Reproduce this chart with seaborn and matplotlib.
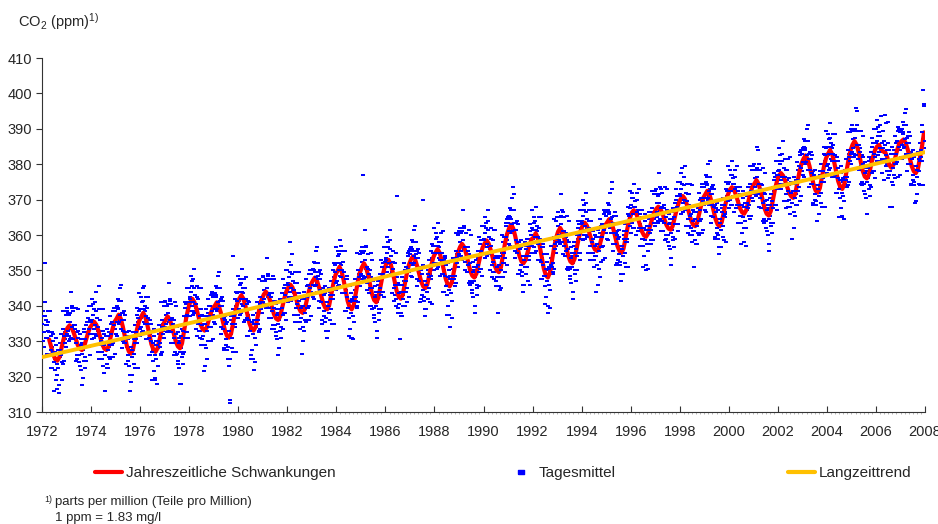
# CO2-Konzentration Tagesmittel 1972-2008 mit Jahresgang und Langzeittrend
import numpy as np
import pandas as pd
import seaborn as sns
import matplotlib
matplotlib.use("Agg")
import matplotlib.pyplot as plt
from matplotlib.markers import MarkerStyle
from matplotlib.lines import Line2D
from matplotlib.ticker import MultipleLocator

# Tagesmittel, 36 Werte pro Jahr (gleichmaessig ueber das Jahr verteilt)
tages_1972_1979 = [
    335, 330, 337, 332.5, 352, 334.5, 336, 331, 333, 335.5, 326.5, 332.5, 327.5, 331.5, 322.5, 327, 330, 324,
    322, 327, 331, 323.5, 320.5, 327.5, 326.5, 317.5, 327.5, 332, 326, 319, 323.5, 333.5, 331.5, 329.5, 337.5, 331.5,
    332, 338, 333, 337.5, 330.5, 335.5, 331, 340, 334, 330.5, 334.5, 327.5, 333.5, 329.5, 339.5, 326, 331, 333,
    326, 323, 329, 330.5, 326.5, 319.5, 330.5, 333.5, 325.5, 330.5, 334.5, 328.5, 335.5, 328.5, 333.5, 340, 332, 336,
    335.5, 330.5, 337.5, 340.5, 333.5, 334.5, 338.5, 331.5, 336.5, 327, 334, 345.5, 329, 336, 330, 325, 331, 339,
    321, 329, 326, 331.5, 329.5, 322.5, 331.5, 327.5, 325.5, 337, 329, 332, 335.5, 329.5, 338.5, 334.5, 326.5, 338.5,
    339.5, 335.5, 331.5, 339.5, 341.5, 335.5, 337.5, 333.5, 341.5, 336, 330, 333, 338.5, 329.5, 332.5, 323.5, 331.5, 330.5,
    326, 331, 316, 320.5, 328.5, 327.5, 325.5, 332.5, 330.5, 326.5, 329.5, 332.5, 330.5, 337.5, 322.5, 336.5, 338.5, 333.5,
    339, 334, 341, 345, 333, 339, 340, 335, 337, 339.5, 330.5, 336.5, 331, 335, 326, 330, 333, 327,
    324.5, 329.5, 333.5, 326, 319.5, 330, 329, 323, 330, 334.5, 328.5, 329.5, 326, 336, 334, 332, 340, 334,
    334, 340, 335, 340, 333, 338, 333, 342, 336, 332.5, 336.5, 329.5, 335, 331, 341, 327, 332, 334,
    326.5, 323.5, 329.5, 331, 327, 318, 331.5, 334.5, 326.5, 333, 337, 331, 339.5, 332.5, 337.5, 345, 337, 341,
    342, 337, 344, 347, 340, 341, 345, 338, 343, 333.5, 340.5, 342.5, 335, 342, 336, 331, 337, 345,
    330.5, 334.5, 331.5, 337, 335, 323, 337, 333, 325, 342, 334, 337, 340, 334, 343, 338.5, 330.5, 342.5,
    343, 339, 335, 343, 345, 339, 341, 337, 345, 340, 334, 337, 342.5, 333.5, 336.5, 328, 336, 335,
    330.5, 335.5, 328.5, 325, 333, 312.5, 313.5, 337, 335, 331, 354, 337, 335, 342, 327, 341.5, 343.5, 338.5,
]
tages_1980_1989 = [
    344, 339, 346, 342, 338, 344, 345, 340, 342, 345, 336, 342, 336.5, 340.5, 331.5, 336, 339, 333,
    326, 335.5, 339.5, 332, 322, 336, 335, 329, 336, 341, 335, 336, 332.5, 342.5, 340.5, 339, 347, 341,
    341, 347, 342, 347, 340, 345, 340, 349, 343, 339.5, 343.5, 336.5, 342.5, 338.5, 348.5, 334.5, 339.5, 341.5,
    334.5, 331.5, 337.5, 339, 335, 328, 339, 342, 334, 339.5, 343.5, 337.5, 345, 338, 343, 350, 342, 346,
    346, 341, 348, 358, 344, 345, 349, 342, 347, 337.5, 344.5, 346.5, 339.5, 346.5, 340.5, 335.5, 341.5, 349.5,
    335.5, 339.5, 336.5, 342, 340, 330, 342, 338, 336, 347.5, 339.5, 342.5, 346, 340, 349, 345, 337, 349,
    350, 346, 342, 350, 352, 346, 348, 344, 352, 347.5, 341.5, 344.5, 350, 341, 344, 336, 344, 343,
    338.5, 343.5, 336.5, 333, 341, 340, 338, 345, 343, 339, 342, 345, 343, 350, 335, 349.5, 351.5, 346.5,
    352, 347, 354, 350, 346, 352, 357, 348, 350, 352.5, 343.5, 349.5, 343.5, 347.5, 338.5, 342.5, 345.5, 339.5,
    336.5, 341.5, 345.5, 338, 331, 342, 341.5, 335.5, 342.5, 347.5, 341.5, 342.5, 340, 350, 348, 346.5, 354.5, 348.5,
    349, 355, 377, 355, 348, 353, 348, 357, 351, 346.5, 350.5, 343.5, 349, 345, 355, 340, 345, 347,
    339.5, 336.5, 342.5, 344, 340, 333, 344, 347, 339, 345, 349, 343, 351, 344, 349, 356.5, 348.5, 352.5,
    353, 348, 355, 358, 351, 352, 356, 349, 354, 343.5, 350.5, 352.5, 345, 352, 346, 340, 346, 371,
    339.5, 343.5, 340.5, 346, 344, 337, 346, 342, 340, 352, 344, 347, 351, 345, 354, 350.5, 342.5, 354.5,
    356, 352, 348, 356, 358, 352, 354, 350, 358, 353.5, 347.5, 350.5, 356, 347, 350, 342, 350, 349,
    344.5, 370, 342.5, 339, 347, 346, 344, 351, 349, 345, 348, 351, 348.5, 355.5, 340.5, 355, 357, 352,
    357, 352, 359, 355, 351, 357, 358, 353, 355, 358, 349, 355, 349, 353, 344, 348.5, 351.5, 345.5,
    343, 348, 352, 344.5, 334, 348.5, 347.5, 341.5, 348.5, 353.5, 347.5, 348.5, 345.5, 355.5, 353.5, 352, 360, 354,
    354.5, 360.5, 355.5, 360.5, 353.5, 358.5, 353.5, 362.5, 356.5, 352.5, 356.5, 349.5, 355.5, 351.5, 361.5, 347, 352, 354,
    346.5, 343.5, 349.5, 351, 347, 340, 351, 354, 346, 351.5, 355.5, 349.5, 357.5, 350.5, 355.5, 362.5, 354.5, 358.5,
]
tages_1990_1999 = [
    358.5, 353.5, 360.5, 363.5, 356.5, 357.5, 361.5, 354.5, 359.5, 350, 357, 359, 351.5, 358.5, 352.5, 347.5, 353.5, 361.5,
    347, 351, 348, 353.5, 351.5, 344.5, 354, 350, 348, 360, 352, 355, 359.5, 353.5, 362.5, 359.5, 351.5, 363.5,
    365, 361, 357, 365, 367, 361, 363, 373.5, 367, 361.5, 355.5, 358.5, 364, 355, 358, 349, 357, 356,
    351.5, 356.5, 349.5, 346, 354, 353, 351, 358, 356, 351, 354, 357, 354, 361, 346, 360, 362, 357,
    361.5, 356.5, 363.5, 359.5, 355.5, 361.5, 362.5, 357.5, 359.5, 362, 353, 359, 352.5, 356.5, 347.5, 351.5, 354.5, 348.5,
    345.5, 350.5, 354.5, 347, 338, 351, 350.5, 344.5, 351.5, 357, 351, 352, 349.5, 359.5, 357.5, 356, 364, 358,
    359, 365, 360, 365, 358, 363, 358, 367, 361, 357, 361, 354, 359.5, 355.5, 365.5, 351, 356, 358,
    350.5, 347.5, 353.5, 355, 351, 344, 355, 358, 350, 356, 360, 354, 362, 355, 360, 367, 359, 363,
    363.5, 358.5, 365.5, 368.5, 361.5, 362.5, 366.5, 359.5, 364.5, 355, 362, 364, 357, 364, 358, 353, 359, 367,
    353, 357, 354, 359.5, 357.5, 346, 359.5, 355.5, 348, 364.5, 356.5, 359.5, 363, 357, 366, 361.5, 353.5, 365.5,
    366.5, 362.5, 358.5, 366.5, 368.5, 362.5, 364.5, 360.5, 375, 363.5, 357.5, 360.5, 366.5, 357.5, 360.5, 352, 360, 359,
    354.5, 359.5, 352.5, 349, 357, 356, 354, 361, 359, 355, 358, 361, 359, 366, 351, 365.5, 367.5, 362.5,
    368.5, 363.5, 370.5, 366, 362, 368, 369.5, 364.5, 366.5, 370, 361, 367, 362, 366, 357, 362, 365, 359,
    357, 362, 366, 358.5, 350, 362.5, 361.5, 355.5, 362.5, 366.5, 360.5, 361.5, 357.5, 367.5, 365.5, 363.5, 371.5, 365.5,
    365.5, 371.5, 366.5, 371, 364, 369, 364.5, 373.5, 367.5, 364, 368, 361, 367.5, 363.5, 373.5, 360, 365, 367,
    360, 357, 363, 364.5, 360.5, 353.5, 364.5, 367.5, 359.5, 365, 369, 363, 370, 363, 368, 375, 367, 371,
    371, 366, 373, 379, 369, 370, 374, 367, 372, 362.5, 369.5, 371.5, 364.5, 371.5, 365.5, 360, 366, 374,
    360, 364, 361, 366.5, 364.5, 357.5, 366.5, 362.5, 360.5, 372, 364, 367, 370.5, 364.5, 373.5, 369.5, 361.5, 373.5,
    374.5, 370.5, 366.5, 374.5, 376.5, 370.5, 372.5, 368.5, 376.5, 371.5, 365.5, 368.5, 374, 365, 368, 359.5, 367.5, 366.5,
    362, 367, 360, 356.5, 364.5, 363.5, 361.5, 368.5, 366.5, 362.5, 365.5, 368.5, 366, 373, 358, 372.5, 374.5, 369.5,
]
tages_2000_2007 = [
    375, 370, 377, 372.5, 368.5, 374.5, 376, 371, 373, 376.5, 367.5, 373.5, 368.5, 372.5, 363.5, 368.5, 371.5, 365.5,
    363.5, 368.5, 372.5, 365, 362, 369, 368, 362, 369, 373.5, 367.5, 368.5, 364.5, 374.5, 372.5, 370.5, 378.5, 372.5,
    372.5, 378.5, 373.5, 378.5, 371.5, 376.5, 371.5, 384, 374.5, 370.5, 374.5, 367.5, 373, 369, 379, 364.5, 369.5, 371.5,
    364, 361, 367, 368.5, 364.5, 357.5, 368.5, 371.5, 363.5, 369.5, 373.5, 367.5, 375.5, 368.5, 373.5, 381, 373, 377,
    378, 373, 380, 382.5, 375.5, 376.5, 381, 374, 379, 369.5, 376.5, 378.5, 371.5, 378.5, 372.5, 368, 374, 382,
    368, 372, 369, 374.5, 372.5, 362, 374.5, 370.5, 368.5, 380.5, 372.5, 375.5, 379.5, 373.5, 382.5, 379, 371, 383,
    384.5, 380.5, 376.5, 384.5, 386.5, 380.5, 382.5, 378.5, 386.5, 381.5, 375.5, 378.5, 383.5, 374.5, 377.5, 369, 377, 376,
    371.5, 376.5, 369.5, 364, 374, 373, 371, 378, 376, 372, 375, 378, 376, 383, 368, 382.5, 384.5, 379.5,
    385, 380, 387, 383, 379, 385, 386, 381, 383, 385.5, 376.5, 382.5, 377, 381, 372, 376, 379, 373,
    370.5, 375.5, 379.5, 372, 365.5, 376, 375.5, 369.5, 376.5, 381.5, 375.5, 376.5, 374, 384, 382, 381, 389, 383,
    383.5, 389.5, 384.5, 389.5, 382.5, 387.5, 382.5, 395, 385.5, 381.5, 385.5, 378.5, 383.5, 379.5, 389.5, 375, 380, 382,
    374.5, 371.5, 377.5, 379, 375, 366, 379, 382, 374, 379.5, 383.5, 377.5, 385, 378, 383, 390, 382, 386,
    386, 381, 388, 390.5, 383.5, 384.5, 388, 381, 386, 377.5, 384.5, 386.5, 381.5, 394, 382.5, 378, 384, 392,
    377, 381, 378, 383, 381, 368, 383, 379, 377, 388, 380, 383, 386.5, 380.5, 389.5, 385, 377, 389,
    389.5, 385.5, 381.5, 389, 391, 385, 387, 383, 391, 386, 380, 383, 389, 380, 383, 374.5, 382.5, 381.5,
    377, 382, 375, 369, 379.5, 378.5, 376.5, 383.5, 381.5, 378, 381, 384, 382, 389, 374, 401, 397, 386.5,
]

# zweite Messreihe der Tagesmittel, jeweils zwischen den Werten oben
tages_b_1972_1979 = [
    332.5, 338.5, 328.5, 337, 341, 331, 334.5, 326.5, 338.5, 332.5, 326.5, 338.5, 322.5, 328.5, 332.5, 332, 324, 316,
    325, 319, 329, 316.5, 326.5, 322.5, 315.5, 325.5, 329.5, 326, 332, 324, 338.5, 324.5, 332.5, 330.5, 328.5, 338.5,
    339.5, 335.5, 331.5, 330, 338, 344, 333.5, 339.5, 327.5, 338.5, 330.5, 332.5, 334.5, 324.5, 332.5, 325, 339, 329,
    324, 332, 322, 329.5, 317.5, 327.5, 332.5, 324.5, 322.5, 332.5, 324.5, 338.5, 332.5, 336.5, 328.5, 326, 336, 340,
    336, 342, 332, 339, 331, 341, 344, 334, 332, 333, 339, 325, 333, 327, 339, 327, 333, 323,
    332, 326, 316, 329.5, 323.5, 333.5, 322.5, 328.5, 332.5, 325, 335, 329, 335.5, 325.5, 339.5, 339.5, 333.5, 335.5,
    332, 340, 342, 339, 335, 345, 336, 346, 338, 328, 338, 336, 329.5, 337.5, 323.5, 332.5, 328.5, 324.5,
    333, 323, 327, 318.5, 328.5, 320.5, 327.5, 331.5, 323.5, 334.5, 322.5, 330.5, 329.5, 339.5, 335.5, 333.5, 343.5, 331.5,
    336.5, 342.5, 332.5, 341.5, 345.5, 335.5, 338.5, 330.5, 342.5, 336.5, 330.5, 342.5, 326, 332, 336, 335, 327, 319,
    327.5, 321.5, 331.5, 319, 329, 325, 318, 328, 332, 328.5, 334.5, 326.5, 341, 327, 335, 333, 331, 341,
    341.5, 337.5, 333.5, 332.5, 340.5, 346.5, 335.5, 341.5, 329.5, 340.5, 332.5, 334.5, 336, 326, 334, 326, 340, 330,
    324.5, 332.5, 322.5, 330, 318, 328, 333.5, 325.5, 323.5, 335, 327, 341, 336.5, 340.5, 332.5, 331, 341, 345,
    342.5, 348.5, 338.5, 345.5, 337.5, 347.5, 350.5, 340.5, 338.5, 339.5, 345.5, 331.5, 339, 333, 345, 333, 339, 329,
    337.5, 331.5, 321.5, 335, 329, 339, 328, 334, 338, 330, 340, 334, 340, 330, 344, 343.5, 337.5, 339.5,
    335.5, 343.5, 345.5, 342.5, 338.5, 348.5, 339.5, 349.5, 341.5, 332, 342, 340, 333.5, 341.5, 327.5, 337, 333, 329,
    337.5, 327.5, 331.5, 323, 333, 325, 332, 336, 328, 339, 327, 335, 334, 344, 340, 338.5, 348.5, 336.5,
]
tages_b_1980_1989 = [
    341.5, 347.5, 337.5, 346.5, 350.5, 340.5, 343.5, 335.5, 347.5, 342, 336, 348, 331.5, 337.5, 341.5, 341, 333, 325,
    333.5, 327.5, 337.5, 325, 335, 331, 324, 334, 338, 335, 341, 333, 347.5, 333.5, 341.5, 340, 338, 348,
    348.5, 344.5, 340.5, 339.5, 347.5, 353.5, 342.5, 348.5, 336.5, 347.5, 339.5, 341.5, 343.5, 333.5, 341.5, 333.5, 347.5, 337.5,
    332.5, 340.5, 330.5, 338, 326, 336, 341, 333, 331, 341.5, 333.5, 347.5, 342, 346, 338, 336, 346, 350,
    346.5, 352.5, 342.5, 349.5, 341.5, 351.5, 354.5, 344.5, 342.5, 343.5, 349.5, 335.5, 343.5, 337.5, 349.5, 337.5, 343.5, 333.5,
    342.5, 336.5, 326.5, 340, 334, 344, 333, 339, 343, 335.5, 345.5, 339.5, 346, 336, 350, 350, 344, 346,
    342.5, 350.5, 352.5, 349.5, 345.5, 355.5, 346.5, 356.5, 348.5, 339.5, 349.5, 347.5, 341, 349, 335, 345, 341, 337,
    345.5, 335.5, 339.5, 331, 341, 333, 340, 344, 336, 347, 335, 343, 342, 352, 348, 346.5, 356.5, 344.5,
    349.5, 355.5, 345.5, 354.5, 358.5, 348.5, 351.5, 343.5, 355.5, 349.5, 343.5, 355.5, 338.5, 344.5, 348.5, 347.5, 339.5, 331.5,
    339.5, 333.5, 343.5, 331, 341, 337, 330.5, 340.5, 344.5, 341.5, 347.5, 339.5, 355, 341, 349, 347.5, 345.5, 355.5,
    356.5, 352.5, 348.5, 347.5, 355.5, 361.5, 350.5, 356.5, 344.5, 354.5, 346.5, 348.5, 350, 340, 348, 339, 353, 343,
    337.5, 345.5, 335.5, 343, 331, 341, 346, 338, 336, 347, 339, 353, 348, 352, 344, 342.5, 352.5, 356.5,
    353.5, 359.5, 349.5, 356.5, 348.5, 358.5, 361.5, 351.5, 349.5, 349.5, 355.5, 341.5, 349, 343, 355, 342, 348, 338,
    346.5, 340.5, 330.5, 344, 338, 348, 337, 343, 347, 340, 350, 344, 351, 341, 355, 355.5, 349.5, 351.5,
    348.5, 356.5, 358.5, 355.5, 351.5, 361.5, 352.5, 362.5, 354.5, 345.5, 355.5, 353.5, 347, 355, 341, 351, 347, 343,
    351.5, 341.5, 345.5, 337, 347, 339, 346, 350, 342, 353, 341, 349, 347.5, 357.5, 353.5, 352, 362, 350,
    354.5, 360.5, 350.5, 359.5, 363.5, 353.5, 356.5, 348.5, 360.5, 355, 349, 361, 344, 350, 354, 353.5, 345.5, 337.5,
    346, 340, 350, 337.5, 347.5, 343.5, 336.5, 346.5, 350.5, 347.5, 353.5, 345.5, 360.5, 346.5, 354.5, 353, 351, 361,
    362, 358, 354, 353, 361, 367, 356, 362, 350, 360.5, 352.5, 354.5, 356.5, 346.5, 354.5, 346, 360, 350,
    344.5, 352.5, 342.5, 350, 338, 348, 353, 345, 343, 353.5, 345.5, 359.5, 354.5, 358.5, 350.5, 348.5, 358.5, 362.5,
]
tages_b_1990_1999 = [
    359, 365, 355, 362, 354, 364, 367, 357, 355, 356, 362, 348, 355.5, 349.5, 361.5, 349.5, 355.5, 345.5,
    354, 348, 338, 351.5, 345.5, 355.5, 345, 351, 355, 348, 358, 352, 359.5, 349.5, 363.5, 364.5, 358.5, 360.5,
    357.5, 365.5, 367.5, 364.5, 360.5, 370.5, 361.5, 371.5, 363.5, 353.5, 363.5, 361.5, 355, 363, 349, 358, 354, 350,
    358.5, 348.5, 352.5, 344, 354, 346, 353, 357, 349, 359, 347, 355, 353, 363, 359, 357, 367, 355,
    359, 365, 355, 364, 368, 358, 361, 353, 365, 359, 353, 365, 347.5, 353.5, 357.5, 356.5, 348.5, 340.5,
    348.5, 342.5, 352.5, 340, 350, 346, 339.5, 349.5, 353.5, 351, 357, 349, 364.5, 350.5, 358.5, 357, 355, 365,
    366.5, 362.5, 358.5, 357.5, 365.5, 371.5, 360.5, 366.5, 354.5, 365, 357, 359, 360.5, 350.5, 358.5, 350, 364, 354,
    348.5, 356.5, 346.5, 354, 342, 352, 357, 349, 347, 358, 350, 364, 359, 363, 355, 353, 363, 367,
    364, 370, 360, 367, 359, 369, 372, 362, 360, 361, 367, 353, 361, 355, 367, 355, 361, 351,
    360, 354, 344, 357.5, 351.5, 361.5, 350.5, 356.5, 360.5, 352.5, 362.5, 356.5, 363, 353, 367, 366.5, 360.5, 362.5,
    359, 367, 369, 366, 362, 372, 363, 373, 365, 355.5, 365.5, 363.5, 357.5, 365.5, 351.5, 361, 357, 353,
    361.5, 351.5, 355.5, 347, 357, 349, 356, 360, 352, 363, 351, 359, 358, 368, 364, 362.5, 372.5, 360.5,
    366, 372, 362, 370.5, 374.5, 364.5, 368, 360, 372, 367, 361, 373, 357, 363, 367, 367, 359, 351,
    360, 354, 364, 351.5, 361.5, 357.5, 350.5, 360.5, 364.5, 360.5, 366.5, 358.5, 372.5, 358.5, 366.5, 364.5, 362.5, 372.5,
    373, 369, 365, 363.5, 371.5, 377.5, 367, 373, 361, 372, 364, 366, 368.5, 358.5, 366.5, 359, 373, 363,
    358, 366, 356, 363.5, 351.5, 361.5, 366.5, 358.5, 356.5, 367, 359, 373, 367, 371, 363, 361, 371, 375,
    371.5, 377.5, 367.5, 374.5, 366.5, 376.5, 379.5, 369.5, 367.5, 368.5, 374.5, 360.5, 368.5, 362.5, 374.5, 362, 368, 358,
    367, 361, 351, 364.5, 358.5, 368.5, 357.5, 363.5, 367.5, 360, 370, 364, 370.5, 360.5, 374.5, 374.5, 368.5, 370.5,
    367, 375, 377, 374, 370, 380, 371, 381, 373, 363.5, 373.5, 371.5, 365, 373, 359, 368.5, 364.5, 360.5,
    369, 359, 363, 354.5, 364.5, 356.5, 363.5, 367.5, 359.5, 370.5, 358.5, 366.5, 365, 375, 371, 369.5, 379.5, 367.5,
]
tages_b_2000_2007 = [
    372.5, 378.5, 368.5, 377, 381, 371, 374.5, 366.5, 378.5, 373.5, 367.5, 379.5, 363.5, 369.5, 373.5, 373.5, 365.5, 357.5,
    366.5, 360.5, 370.5, 358, 368, 364, 357, 367, 371, 367.5, 373.5, 365.5, 379.5, 365.5, 373.5, 371.5, 369.5, 379.5,
    380, 376, 372, 371, 379, 385, 374, 380, 368, 378.5, 370.5, 372.5, 374, 364, 372, 363.5, 377.5, 367.5,
    362, 370, 360, 367.5, 355.5, 365.5, 370.5, 362.5, 360.5, 371.5, 363.5, 377.5, 372.5, 376.5, 368.5, 367, 377, 381,
    378.5, 384.5, 374.5, 381, 373, 383, 386.5, 376.5, 374.5, 375.5, 381.5, 367.5, 375.5, 369.5, 381.5, 370, 376, 366,
    375, 369, 359, 372.5, 366.5, 376.5, 365.5, 371.5, 375.5, 368.5, 378.5, 372.5, 379.5, 369.5, 383.5, 384, 378, 380,
    377, 385, 387, 384, 380, 390, 381, 391, 383, 373.5, 383.5, 381.5, 374.5, 382.5, 368.5, 378, 374, 370,
    378.5, 368.5, 372.5, 364, 374, 366, 373, 377, 369, 380, 368, 376, 375, 385, 381, 379.5, 389.5, 377.5,
    382.5, 388.5, 378.5, 387.5, 391.5, 381.5, 384.5, 376.5, 388.5, 382.5, 376.5, 388.5, 372, 378, 382, 381, 373, 365,
    373.5, 367.5, 377.5, 365, 375, 371, 364.5, 374.5, 378.5, 375.5, 381.5, 373.5, 389, 375, 383, 382, 380, 390,
    391, 387, 383, 382, 390, 396, 385, 391, 379, 389.5, 381.5, 383.5, 384.5, 374.5, 382.5, 374, 388, 378,
    372.5, 380.5, 370.5, 378, 366, 376, 381, 373, 371, 381.5, 373.5, 387.5, 382, 386, 378, 376, 386, 390,
    386.5, 392.5, 382.5, 389, 381, 391, 393.5, 383.5, 381.5, 383.5, 389.5, 375.5, 385.5, 379.5, 391.5, 380, 386, 376,
    384, 378, 368, 381, 375, 385, 374, 380, 384, 376, 386, 380, 386.5, 376.5, 390.5, 390, 384, 386,
    382, 390, 392, 388.5, 384.5, 394.5, 385.5, 395.5, 387.5, 378, 388, 386, 380, 388, 374, 383.5, 379.5, 375.5,
    384, 374, 378, 369.5, 379.5, 371.5, 378.5, 382.5, 374.5, 386, 374, 382, 381, 391, 387, 386.5, 396.5, 384.5,
]

# Jahreszeitliche Schwankungen, Monatswerte (Beginn April 1972)
jahresgang_1972_1979 = [
    330.5, 328.3, 326.2, 324.9, 324.5, 325.5, 328.0, 330.5, 332.5,
    333.8, 334.5, 333.8, 332.4, 330.7, 328.9, 327.9, 327.5, 328.3, 330.3, 332.3, 333.9,
    334.7, 335.5, 334.7, 333.1, 331.1, 329.1, 327.9, 327.5, 328.5, 331.0, 333.5, 335.5,
    336.4, 337.5, 336.4, 334.2, 331.4, 328.7, 327.1, 326.5, 327.7, 330.5, 333.4, 335.7,
    336.9, 338.0, 336.9, 334.7, 332.0, 329.2, 327.6, 327.0, 328.0, 330.5, 333.0, 335.0,
    336.1, 337.0, 336.1, 334.3, 332.1, 329.8, 328.5, 328.0, 329.4, 332.9, 336.4, 339.2,
    341.1, 342.0, 341.1, 339.3, 337.1, 334.8, 333.5, 333.0, 333.8, 335.8, 337.8, 339.4,
    340.0, 341.0, 340.0, 338.0, 335.5, 333.0, 331.5, 331.0, 332.2, 335.2, 338.2, 340.6,
]
jahresgang_1980_1989 = [
    342.0, 343.0, 342.0, 340.0, 337.5, 335.0, 333.5, 333.0, 334.1, 336.9, 339.6, 341.8,
    343.2, 344.0, 343.2, 341.6, 339.6, 337.6, 336.4, 336.0, 337.0, 339.5, 342.0, 344.0,
    345.2, 346.0, 345.2, 343.6, 341.6, 339.6, 338.4, 338.0, 339.0, 341.5, 344.0, 346.0,
    347.1, 348.0, 347.1, 345.3, 343.1, 340.8, 339.5, 339.0, 340.2, 343.2, 346.2, 348.6,
    349.8, 351.0, 349.8, 347.4, 344.4, 341.4, 339.6, 339.0, 340.3, 343.6, 346.8, 349.4,
    350.9, 352.0, 350.9, 348.7, 346.0, 343.2, 341.6, 341.0, 342.2, 345.2, 348.2, 350.6,
    351.9, 353.0, 351.9, 349.7, 347.0, 344.2, 342.6, 342.0, 343.2, 346.2, 349.2, 351.6,
    353.1, 354.0, 353.1, 351.3, 349.1, 346.8, 345.5, 345.0, 346.1, 348.9, 351.6, 353.8,
    355.0, 356.0, 355.0, 352.9, 350.2, 347.6, 346.0, 345.5, 346.7, 349.7, 352.7, 355.1,
    356.6, 357.5, 356.6, 354.7, 352.3, 349.9, 348.5, 348.0, 349.1, 351.7, 354.3, 356.4,
]
jahresgang_1990_1999 = [
    357.6, 358.5, 357.6, 355.8, 353.5, 351.3, 350.0, 349.5, 350.9, 354.2, 357.6, 360.3,
    361.9, 363.0, 361.9, 359.7, 357.0, 354.2, 352.6, 352.0, 352.9, 355.0, 357.1, 358.8,
    359.3, 360.5, 359.3, 356.8, 353.6, 350.5, 348.6, 348.0, 349.4, 352.9, 356.4, 359.2,
    361.0, 362.0, 361.0, 359.0, 356.5, 354.0, 352.5, 352.0, 353.2, 356.0, 358.9, 361.2,
    362.7, 363.5, 362.7, 361.1, 359.1, 357.1, 355.9, 355.5, 356.4, 358.7, 360.9, 362.7,
    363.6, 364.5, 363.6, 361.7, 359.3, 356.9, 355.5, 355.0, 356.2, 359.2, 362.2, 364.6,
    366.3, 367.0, 366.3, 364.8, 362.9, 361.0, 359.9, 359.5, 360.4, 362.5, 364.6, 366.3,
    367.4, 368.0, 367.4, 366.1, 364.4, 362.8, 361.8, 361.5, 362.5, 364.8, 367.2, 369.1,
    370.2, 371.0, 370.2, 368.5, 366.3, 364.2, 362.9, 362.5, 363.5, 366.0, 368.5, 370.5,
    371.5, 372.5, 371.5, 369.5, 367.0, 364.5, 363.0, 362.5, 363.6, 366.4, 369.1, 371.3,
]
jahresgang_2000_2007 = [
    372.8, 373.5, 372.8, 371.3, 369.4, 367.5, 366.4, 366.0, 367.0, 369.3, 371.7, 373.6,
    374.5, 375.5, 374.5, 372.5, 370.0, 367.5, 366.0, 365.5, 366.7, 369.7, 372.7, 375.1,
    376.8, 377.5, 376.8, 375.4, 373.7, 371.9, 370.9, 370.5, 371.7, 374.7, 377.7, 380.1,
    381.5, 382.5, 381.5, 379.4, 376.7, 374.1, 372.5, 372.0, 373.2, 376.2, 379.2, 381.6,
    382.9, 384.0, 382.9, 380.7, 378.0, 375.2, 373.6, 373.0, 374.4, 377.7, 381.1, 383.8,
    385.5, 386.5, 385.5, 383.4, 380.7, 378.1, 376.5, 376.0, 377.0, 379.5, 382.0, 384.0,
    385.0, 385.5, 384.0, 383.6, 383.4, 382.0, 379.8, 379.0, 379.8, 382.0, 384.3, 386.0,
    386.5, 387.0, 386.0, 384.2, 381.8, 379.4, 378.0, 377.5, 378.7, 381.9, 385.0, 389.0,
]

# Langzeittrend (Stuetzpunkte)
trend_jahr = [1972, 1979.26, 1987.4, 1995.56, 2003.7, 2008]
trend_ppm = [325.5, 337.1, 350.6, 363.4, 376.4, 383.4]

x_ticks = list(range(1972, 2009, 2))
y_ticks = list(range(310, 411, 10))
labels = ["Jahreszeitliche Schwankungen", "Tagesmittel", "Langzeittrend"]

for reihe, jahre in [(tages_1972_1979, 8), (tages_1980_1989, 10), (tages_1990_1999, 10), (tages_2000_2007, 8),
                     (tages_b_1972_1979, 8), (tages_b_1980_1989, 10), (tages_b_1990_1999, 10), (tages_b_2000_2007, 8)]:
    assert len(reihe) == jahre * 36, (len(reihe), jahre)


def zeitreihe(werte, start, pro_jahr, versatz=0.0):
    t = start + (versatz + np.arange(len(werte)) + 0.5) / pro_jahr
    return pd.DataFrame({"jahr": t, "ppm": werte})


tages_a = pd.concat([
    zeitreihe(tages_1972_1979, 1972, 36),
    zeitreihe(tages_1980_1989, 1980, 36),
    zeitreihe(tages_1990_1999, 1990, 36),
    zeitreihe(tages_2000_2007, 2000, 36),
], ignore_index=True)
tages_b = pd.concat([
    zeitreihe(tages_b_1972_1979, 1972, 36, versatz=0.5),
    zeitreihe(tages_b_1980_1989, 1980, 36, versatz=0.5),
    zeitreihe(tages_b_1990_1999, 1990, 36, versatz=0.5),
    zeitreihe(tages_b_2000_2007, 2000, 36, versatz=0.5),
], ignore_index=True)
jahresgang = pd.concat([
    zeitreihe(jahresgang_1972_1979, 1972, 12, versatz=3),
    zeitreihe(jahresgang_1980_1989, 1980, 12),
    zeitreihe(jahresgang_1990_1999, 1990, 12),
    zeitreihe(jahresgang_2000_2007, 2000, 12),
], ignore_index=True)
trend = pd.DataFrame({"jahr": trend_jahr, "ppm": trend_ppm})

sns.set_theme(style="ticks")
plt.rcParams["font.family"] = ["Liberation Sans", "DejaVu Sans"]
plt.rcParams["mathtext.fontset"] = "custom"
plt.rcParams["mathtext.rm"] = "Liberation Sans"
plt.rcParams["mathtext.default"] = "regular"

ROT = "#FF0000"
BLAU = "#0000FF"
GELB = "#FFC000"
strich = MarkerStyle([(-1, -0.6), (1, -0.6), (1, 0.6), (-1, 0.6), (-1, -0.6)])

fig = plt.figure(figsize=(9.38, 5.24), dpi=100)
ax = fig.add_axes([0.0448, 0.2137, 0.9414, 0.6756])

# ein Teil der Tagesmittel liegt unter, ein Teil ueber der roten Kurve
sns.scatterplot(data=tages_b, x="jahr", y="ppm", marker=strich, s=11,
                color=BLAU, linewidth=0, ax=ax)
sns.lineplot(data=jahresgang, x="jahr", y="ppm", color=ROT, lw=3.0,
             estimator=None, sort=False, ax=ax)
sns.scatterplot(data=tages_a, x="jahr", y="ppm", marker=strich, s=11,
                color=BLAU, linewidth=0, ax=ax)
sns.lineplot(data=trend, x="jahr", y="ppm", color=GELB, lw=2.8,
             estimator=None, sort=False, ax=ax)
ax.collections[0].set_zorder(2)
ax.lines[0].set_zorder(3)
ax.collections[1].set_zorder(3.5)
ax.lines[1].set_zorder(4)

ax.set_xlim(1972, 2008)
ax.set_ylim(310, 410)
ax.set_xticks(x_ticks)
ax.set_yticks(y_ticks)
ax.xaxis.set_minor_locator(MultipleLocator(1 / 6))
ax.set_xlabel("")
ax.set_ylabel("")
ax.tick_params(axis="x", which="major", direction="in", length=4, width=0.8,
               pad=9.5, labelsize=10.5, color="#333333")
ax.tick_params(axis="x", which="minor", direction="out", length=1.5, width=0.5,
               color="#999999")
ax.tick_params(axis="y", direction="out", length=4, width=0.8, pad=3,
               labelsize=10.5, color="#333333")
for s in ["top", "right"]:
    ax.spines[s].set_visible(False)
for s in ["left", "bottom"]:
    ax.spines[s].set_linewidth(0.8)
    ax.spines[s].set_color("#333333")

fig.text(18 / 938, 1 - 27 / 524, "CO$_2$ (ppm)$^{1)}$", fontsize=10.5, va="baseline")

handles = [
    Line2D([0], [0], color=ROT, lw=3),
    Line2D([0], [0], color=BLAU, marker=strich, markersize=4, linestyle="none"),
    Line2D([0], [0], color=GELB, lw=3),
]
fig.legend(handles, labels, loc="center left", bbox_to_anchor=(95 / 938, 1 - 473 / 524),
           ncol=3, frameon=False, fontsize=11, handlelength=1.75, handletextpad=0.25,
           columnspacing=11.3, borderpad=0, borderaxespad=0)

fig.text(44 / 938, 1 - 505 / 524, "$^{1)}$", fontsize=9, va="baseline")
fig.text(55 / 938, 1 - 505 / 524, "parts per million (Teile pro Million)", fontsize=9.5, va="baseline")
fig.text(55 / 938, 1 - 521 / 524, "1 ppm = 1.83 mg/l", fontsize=9.5, va="baseline")

fig.savefig("out.png", dpi=100)
